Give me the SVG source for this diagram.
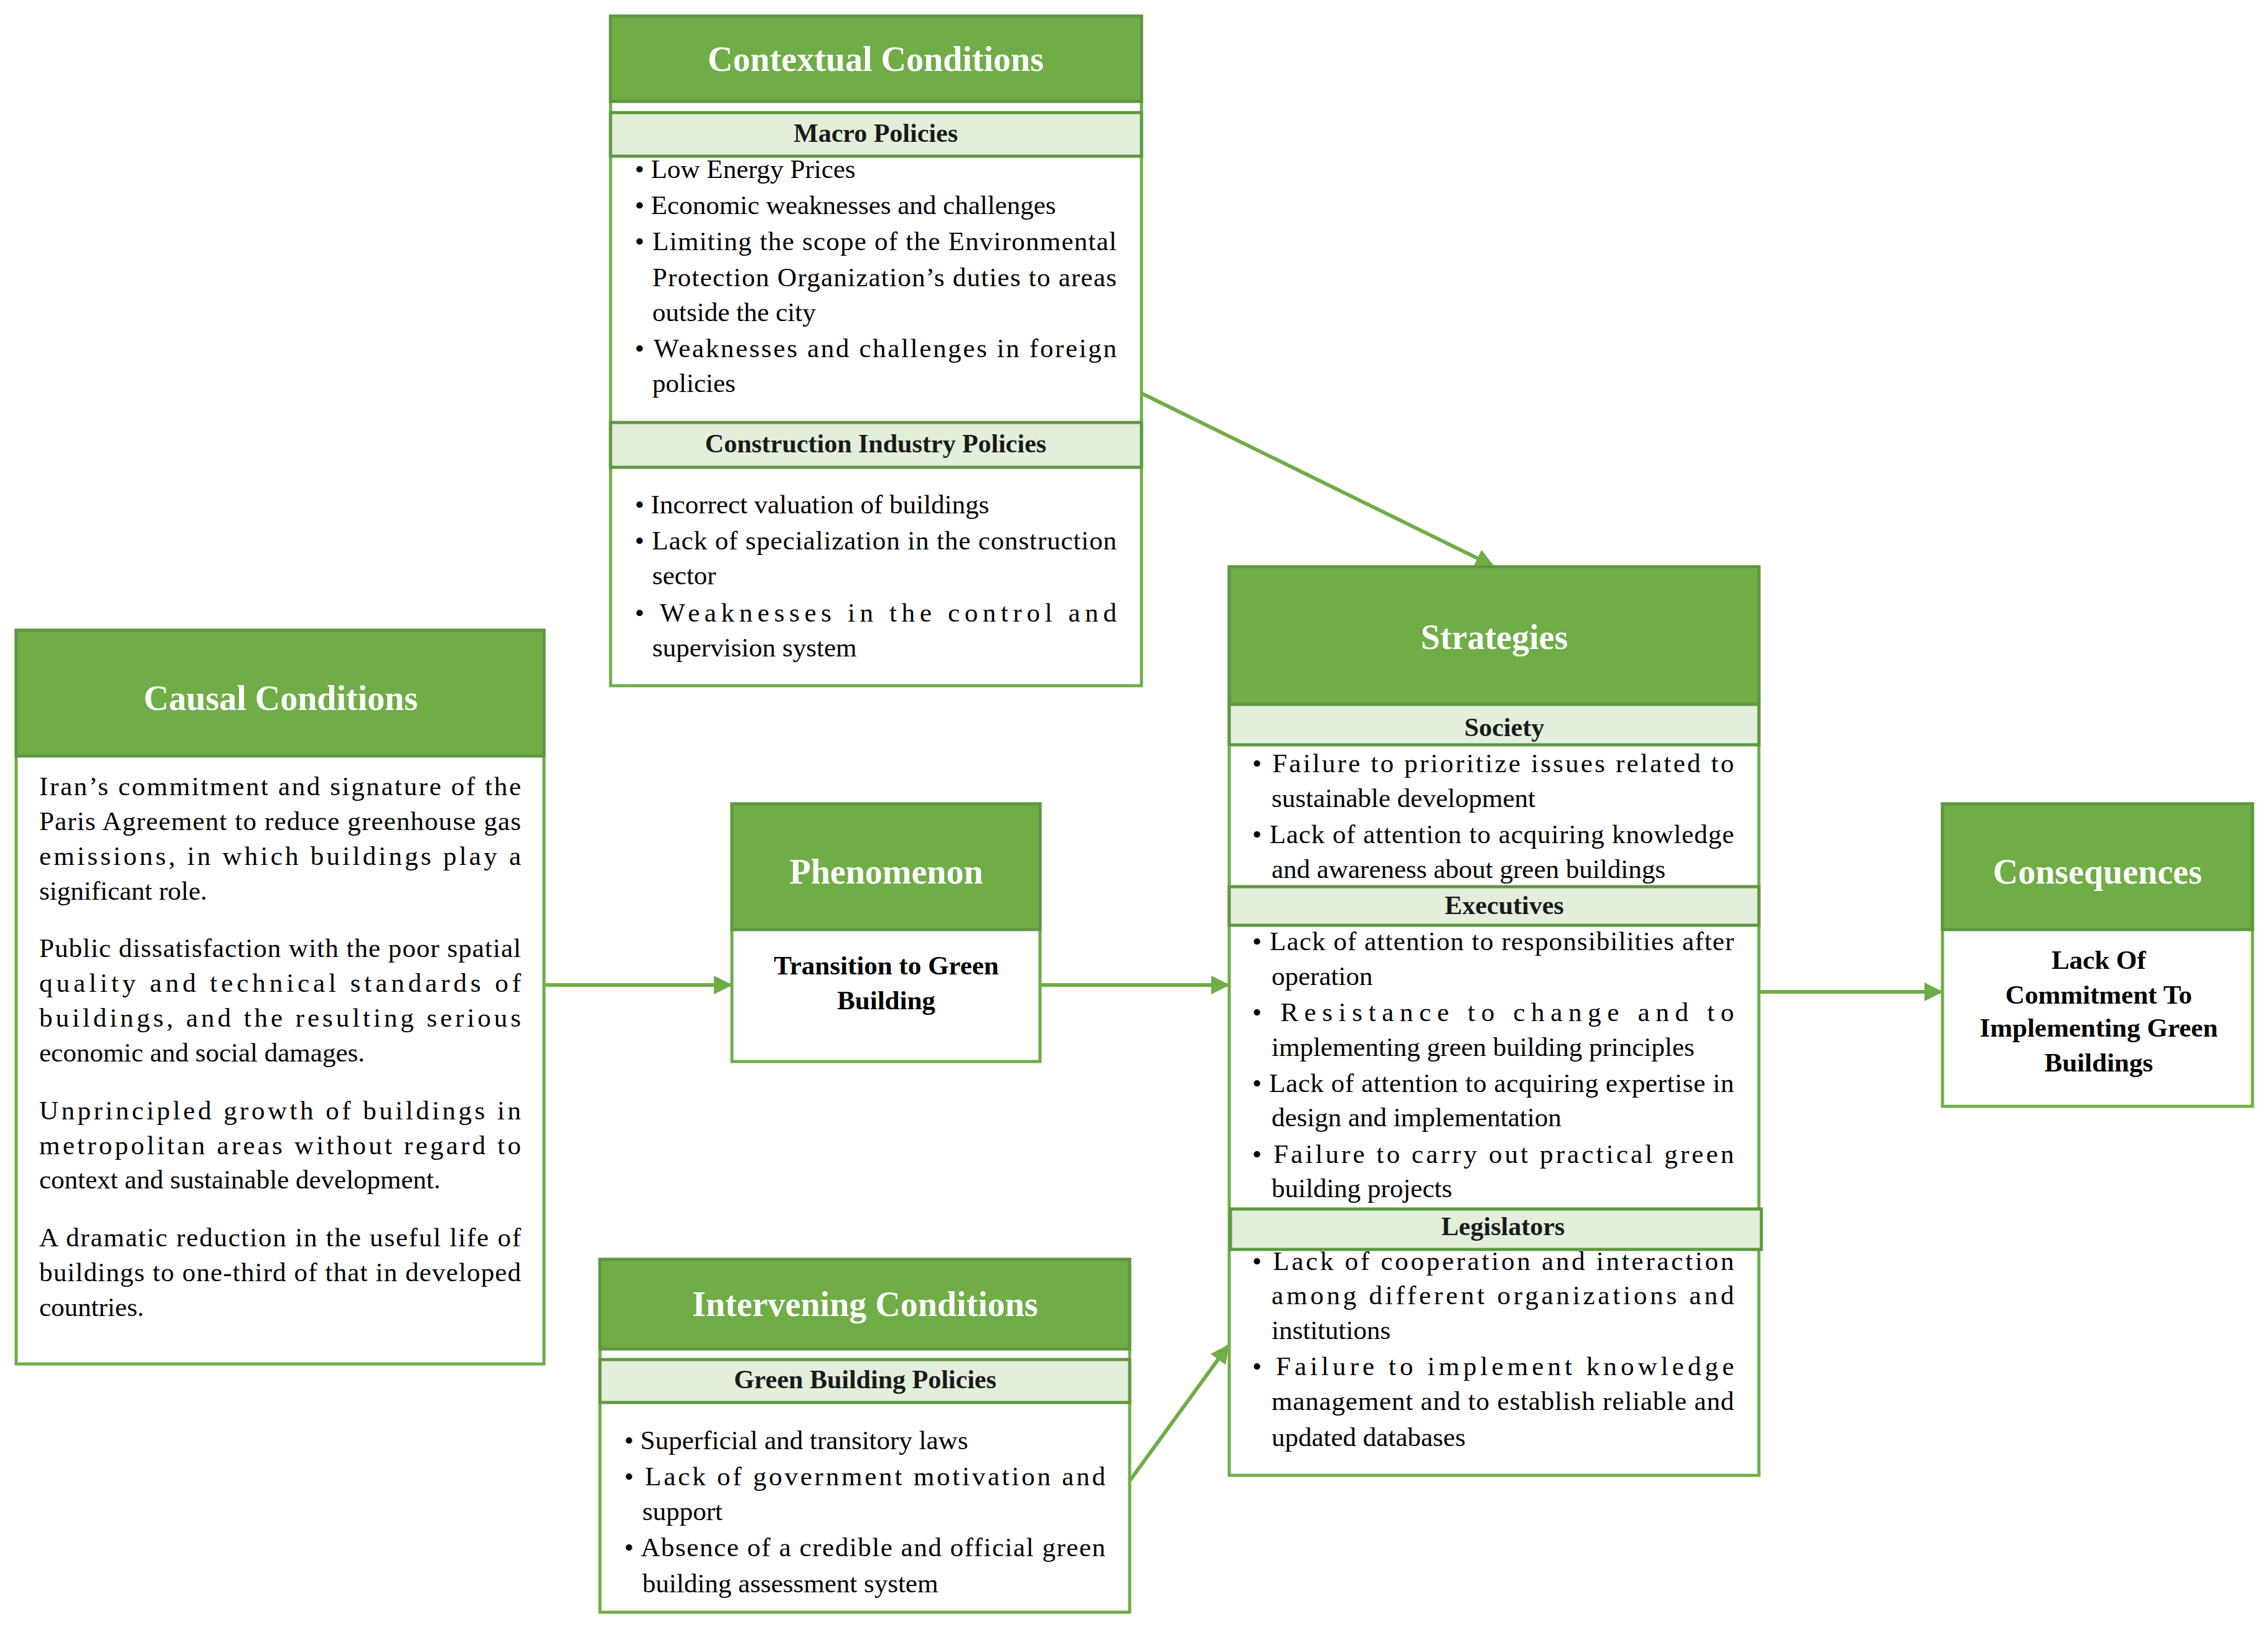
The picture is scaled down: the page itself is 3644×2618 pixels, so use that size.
<svg xmlns="http://www.w3.org/2000/svg" width="3644" height="2618" viewBox="0 0 3644 2618">
<style>
.box{fill:#fff;stroke:#70AD47;stroke-width:5}
.hdr{fill:#70AD47;stroke:#5E9740;stroke-width:5}
.band{fill:#E2EFDA;stroke:#5E9740;stroke-width:5}
.t{font-family:"Liberation Serif",serif;font-size:43px;fill:#000}
.h{font-family:"Liberation Serif",serif;font-size:56px;font-weight:bold;fill:#fff;text-anchor:middle}
.b{font-family:"Liberation Serif",serif;font-size:42px;font-weight:bold;fill:#1a1a1a;text-anchor:middle}
.c{font-family:"Liberation Serif",serif;font-size:43px;font-weight:bold;fill:#000;text-anchor:middle}
.conn{stroke:#70AD47;stroke-width:6;fill:none;marker-end:url(#ar)}
</style>
<defs><marker id="ar" viewBox="0 0 10 10" refX="9" refY="5" markerWidth="5" markerHeight="5" orient="auto" markerUnits="strokeWidth"><path d="M0,0L10,5L0,10z" fill="#70AD47"/></marker></defs>
<rect width="3644" height="2618" fill="#fff"/>
<g id="connectors">
<line class="conn" x1="1834" y1="632" x2="2398" y2="909"/>
<line class="conn" x1="874" y1="1583" x2="1174" y2="1583"/>
<line class="conn" x1="1671" y1="1583" x2="1973" y2="1583"/>
<line class="conn" x1="2826" y1="1594" x2="3119" y2="1594"/>
<line class="conn" x1="1815" y1="2380" x2="1973" y2="2163"/>
</g>
<g id="contextual">
<rect class="box" x="981" y="26" width="853" height="1076"/>
<rect class="hdr" x="981" y="26" width="853" height="137"/>
<text class="h" x="1407" y="114">Contextual Conditions</text>
<rect class="band" x="981" y="181" width="853" height="70"/>
<text class="b" x="1407" y="228">Macro Policies</text>
<text class="t" x="1020" y="286">• Low Energy Prices</text>
<text class="t" x="1020" y="344">• Economic weaknesses and challenges</text>
<text class="t" x="1020" y="402" textLength="774" lengthAdjust="spacing">• Limiting the scope of the Environmental</text>
<text class="t" x="1048" y="460" textLength="746" lengthAdjust="spacing">Protection Organization’s duties to areas</text>
<text class="t" x="1048" y="516">outside the city</text>
<text class="t" x="1020" y="574" textLength="774" lengthAdjust="spacing">• Weaknesses and challenges in foreign</text>
<text class="t" x="1048" y="630">policies</text>
<rect class="band" x="981" y="679" width="853" height="72"/>
<text class="b" x="1407" y="727">Construction Industry Policies</text>
<text class="t" x="1020" y="825">• Incorrect valuation of buildings</text>
<text class="t" x="1020" y="883" textLength="774" lengthAdjust="spacing">• Lack of specialization in the construction</text>
<text class="t" x="1048" y="939">sector</text>
<text class="t" x="1020" y="999" textLength="774" lengthAdjust="spacing">• Weaknesses in the control and</text>
<text class="t" x="1048" y="1055">supervision system</text>
</g>
<g id="causal">
<rect class="box" x="26" y="1013" width="848" height="1179"/>
<rect class="hdr" x="26" y="1013" width="848" height="202"/>
<text class="h" x="451" y="1141">Causal Conditions</text>
<text class="t" x="63" y="1278" textLength="774" lengthAdjust="spacing">Iran’s commitment and signature of the</text>
<text class="t" x="63" y="1334" textLength="774" lengthAdjust="spacing">Paris Agreement to reduce greenhouse gas</text>
<text class="t" x="63" y="1390" textLength="774" lengthAdjust="spacing">emissions, in which buildings play a</text>
<text class="t" x="63" y="1446">significant role.</text>
<text class="t" x="63" y="1538" textLength="774" lengthAdjust="spacing">Public dissatisfaction with the poor spatial</text>
<text class="t" x="63" y="1594" textLength="774" lengthAdjust="spacing">quality and technical standards of</text>
<text class="t" x="63" y="1650" textLength="774" lengthAdjust="spacing">buildings, and the resulting serious</text>
<text class="t" x="63" y="1706">economic and social damages.</text>
<text class="t" x="63" y="1799" textLength="774" lengthAdjust="spacing">Unprincipled growth of buildings in</text>
<text class="t" x="63" y="1855" textLength="774" lengthAdjust="spacing">metropolitan areas without regard to</text>
<text class="t" x="63" y="1910">context and sustainable development.</text>
<text class="t" x="63" y="2003" textLength="774" lengthAdjust="spacing">A dramatic reduction in the useful life of</text>
<text class="t" x="63" y="2059" textLength="774" lengthAdjust="spacing">buildings to one-third of that in developed</text>
<text class="t" x="63" y="2115">countries.</text>
</g>
<g id="phenomenon">
<rect class="box" x="1176" y="1292" width="495" height="414"/>
<rect class="hdr" x="1176" y="1292" width="495" height="202"/>
<text class="h" x="1424" y="1420">Phenomenon</text>
<text class="c" x="1424" y="1566">Transition to Green</text>
<text class="c" x="1424" y="1622">Building</text>
</g>
<g id="strategies">
<rect class="box" x="1975" y="911" width="851" height="1460"/>
<rect class="hdr" x="1975" y="911" width="851" height="221"/>
<text class="h" x="2401" y="1043">Strategies</text>
<rect class="band" x="1975" y="1132" width="851" height="65"/>
<text class="b" x="2417" y="1183">Society</text>
<text class="t" x="2012" y="1241" textLength="774" lengthAdjust="spacing">• Failure to prioritize issues related to</text>
<text class="t" x="2043" y="1297">sustainable development</text>
<text class="t" x="2012" y="1355" textLength="774" lengthAdjust="spacing">• Lack of attention to acquiring knowledge</text>
<text class="t" x="2043" y="1411">and awareness about green buildings</text>
<rect class="band" x="1975" y="1425" width="851" height="62"/>
<text class="b" x="2417" y="1469">Executives</text>
<text class="t" x="2012" y="1527" textLength="774" lengthAdjust="spacing">• Lack of attention to responsibilities after</text>
<text class="t" x="2043" y="1583">operation</text>
<text class="t" x="2012" y="1641" textLength="774" lengthAdjust="spacing">• Resistance to change and to</text>
<text class="t" x="2043" y="1697">implementing green building principles</text>
<text class="t" x="2012" y="1755" textLength="774" lengthAdjust="spacing">• Lack of attention to acquiring expertise in</text>
<text class="t" x="2043" y="1810">design and implementation</text>
<text class="t" x="2012" y="1869" textLength="774" lengthAdjust="spacing">• Failure to carry out practical green</text>
<text class="t" x="2043" y="1924">building projects</text>
<rect class="band" x="1977" y="1943" width="853" height="65"/>
<text class="b" x="2415" y="1985">Legislators</text>
<text class="t" x="2012" y="2041" textLength="774" lengthAdjust="spacing">• Lack of cooperation and interaction</text>
<text class="t" x="2043" y="2096" textLength="743" lengthAdjust="spacing">among different organizations and</text>
<text class="t" x="2043" y="2152">institutions</text>
<text class="t" x="2012" y="2210" textLength="774" lengthAdjust="spacing">• Failure to implement knowledge</text>
<text class="t" x="2043" y="2266" textLength="743" lengthAdjust="spacing">management and to establish reliable and</text>
<text class="t" x="2043" y="2324">updated databases</text>
</g>
<g id="consequences">
<rect class="box" x="3121" y="1292" width="498" height="486"/>
<rect class="hdr" x="3121" y="1292" width="498" height="202"/>
<text class="h" x="3370" y="1420">Consequences</text>
<text class="c" x="3372" y="1557">Lack Of</text>
<text class="c" x="3372" y="1613">Commitment To</text>
<text class="c" x="3372" y="1666">Implementing Green</text>
<text class="c" x="3372" y="1722">Buildings</text>
</g>
<g id="intervening">
<rect class="box" x="964" y="2024" width="851" height="567"/>
<rect class="hdr" x="964" y="2024" width="851" height="144"/>
<text class="h" x="1390" y="2115">Intervening Conditions</text>
<rect class="band" x="964" y="2185" width="851" height="69"/>
<text class="b" x="1390" y="2231">Green Building Policies</text>
<text class="t" x="1003" y="2329">• Superficial and transitory laws</text>
<text class="t" x="1003" y="2387" textLength="773" lengthAdjust="spacing">• Lack of government motivation and</text>
<text class="t" x="1032" y="2443">support</text>
<text class="t" x="1003" y="2501" textLength="773" lengthAdjust="spacing">• Absence of a credible and official green</text>
<text class="t" x="1032" y="2559">building assessment system</text>
</g>
</svg>
